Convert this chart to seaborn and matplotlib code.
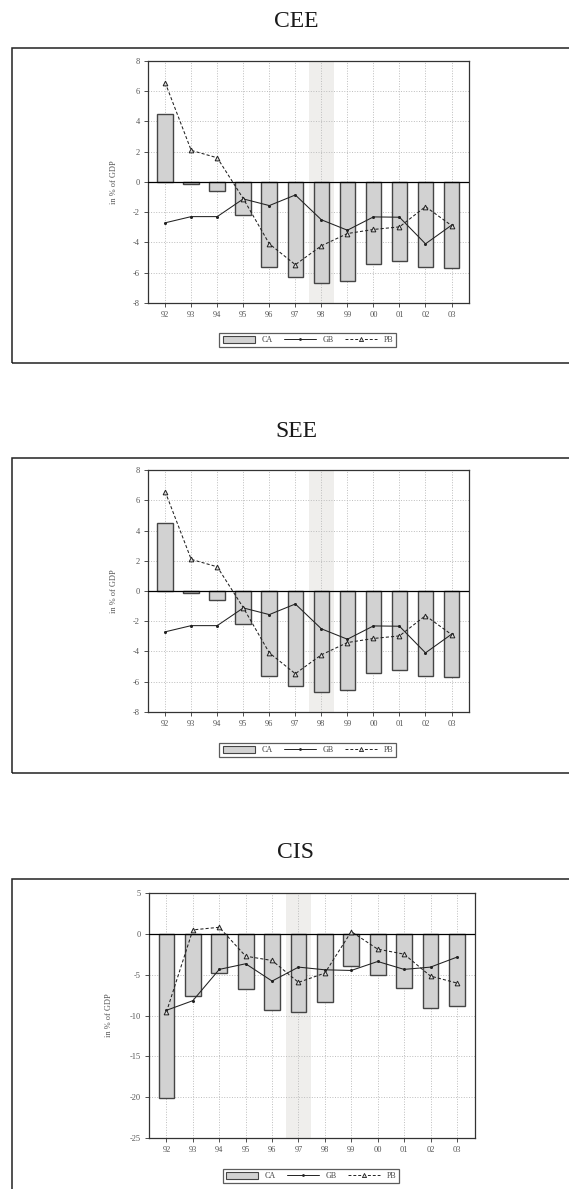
import numpy as np
import pandas as pd
import seaborn as sns
import matplotlib.pyplot as plt
from matplotlib.patches import Rectangle, Patch
from matplotlib.lines import Line2D

years = ["92", "93", "94", "95", "96", "97", "98", "99", "00", "01", "02", "03"]

# CEE
cee_ca = [4.48, -0.13, -0.62, -2.18, -5.6, -6.29, -6.7, -6.53, -5.4, -5.23, -5.65, -5.69]
cee_gb = [-2.7, -2.29, -2.29, -1.12, -1.56, -0.86, -2.5, -3.19, -2.31, -2.33, -4.09, -2.86]
cee_pb = [6.57, 2.09, 1.6, -1.1, -4.09, -5.47, -4.22, -3.41, -3.14, -2.97, -1.63, -2.88]

# SEE (same figures as printed)
see_ca = [4.48, -0.13, -0.62, -2.18, -5.6, -6.29, -6.7, -6.53, -5.4, -5.23, -5.65, -5.69]
see_gb = [-2.7, -2.29, -2.29, -1.12, -1.56, -0.86, -2.5, -3.19, -2.31, -2.33, -4.09, -2.86]
see_pb = [6.57, 2.09, 1.6, -1.1, -4.09, -5.47, -4.22, -3.41, -3.14, -2.97, -1.63, -2.88]

# CIS
cis_ca = [-20.15, -7.57, -4.76, -6.76, -9.28, -9.52, -8.34, -3.95, -5.05, -6.63, -9.04, -8.79]
cis_gb = [-9.36, -8.18, -4.35, -3.66, -5.78, -4.07, -4.4, -4.48, -3.38, -4.35, -4.07, -2.85]
cis_pb = [-9.56, 0.49, 0.81, -2.73, -3.26, -5.94, -4.8, 0.28, -1.87, -2.48, -5.17, -6.02]

sns.set_style("white")
plt.rcParams['font.family'] = ['Liberation Serif', 'DejaVu Serif']

fig = plt.figure(figsize=(5.69, 11.89), dpi=100)

BAR = '#d2d2d2'
EDGE = '#454545'
GREY = '#555555'


def panel(axpos, framepos, title, title_y, ca, gb, pb, ylim, yticks, shade_idx,
          ylab_x, leg_xy):
    # outer box
    fig.add_artist(Rectangle((framepos[0], framepos[1]), framepos[2], framepos[3],
                             transform=fig.transFigure, fill=False,
                             edgecolor='#222222', lw=1.1, clip_on=False))
    fig.text(0.52, title_y, title, ha='center', va='center', fontsize=17, color='#1a1a1a')

    ax = fig.add_axes(axpos)
    df = pd.DataFrame({'year': years, 'CA': ca})
    ax.axvspan(shade_idx - 0.47, shade_idx + 0.47, color='#efeeec', zorder=0, lw=0)
    sns.barplot(data=df, x='year', y='CA', color=BAR, saturation=1, width=0.6,
                edgecolor=EDGE, linewidth=1.0, ax=ax, zorder=2)
    ax.axhline(0, color='black', lw=0.9, zorder=3)
    xs = np.arange(len(years))
    sns.lineplot(x=xs, y=gb, color='#222222', lw=0.75, marker='o', markersize=2.2,
                 markeredgewidth=0, legend=False, ax=ax, zorder=4)
    sns.lineplot(x=xs, y=pb, color='#222222', lw=0.75, ls=(0, (3, 2)), marker='^',
                 markersize=3.4, markerfacecolor='#dddddd', markeredgecolor='#222222',
                 markeredgewidth=0.7, legend=False, ax=ax, zorder=5)

    ax.set_xlim(-0.66, len(years) - 1 + 0.67)
    ax.set_ylim(*ylim)
    ax.set_yticks(yticks)
    ax.set_yticklabels([str(t) for t in yticks])
    ax.set_xticks(xs)
    ax.set_xticklabels(years)
    ax.grid(True, ls=':', color='#bdbdbd', lw=0.7, zorder=1)
    ax.set_axisbelow(True)
    ax.set_xlabel('')
    ax.set_ylabel('in % of GDP', fontsize=6, color=GREY)
    ax.yaxis.set_label_coords(ylab_x, 0.5)
    ax.tick_params(axis='both', direction='out', length=3, width=0.6, color='#333333',
                   labelsize=6, labelcolor=GREY, pad=3, left=True, bottom=True)
    for s in ax.spines.values():
        s.set_color('#333333')
        s.set_linewidth(0.9)

    handles = [
        Patch(facecolor=BAR, edgecolor=EDGE, lw=0.8),
        Line2D([], [], color='#222222', lw=0.7, marker='o', markersize=2, markeredgewidth=0),
        Line2D([], [], color='#222222', lw=0.7, ls=(0, (3, 2)), marker='^', markersize=3,
               markerfacecolor='#dddddd', markeredgecolor='#222222', markeredgewidth=0.6),
    ]
    fig.legend(handles, ['CA', 'GB', 'PB'], loc='center', bbox_to_anchor=leg_xy,
               ncol=3, fontsize=5.8, frameon=True, fancybox=False, edgecolor='#333333',
               handlelength=4, handleheight=1.0, handletextpad=0.8, columnspacing=1.4,
               borderpad=0.4, labelcolor='#444444').get_frame().set_linewidth(0.9)
    return ax


panel([0.2601, 0.7452, 0.5641, 0.2035], [0.021, 0.6947, 1.05, 0.2649], 'CEE', 0.9815,
      cee_ca, cee_gb, cee_pb, (-8, 8), list(range(-8, 9, 2)), 6, -0.093, (0.541, 0.714))
panel([0.2601, 0.4012, 0.5641, 0.2035], [0.021, 0.3499, 1.05, 0.2649], 'SEE', 0.6367,
      see_ca, see_gb, see_pb, (-8, 8), list(range(-8, 9, 2)), 6, -0.093, (0.541, 0.3692))
panel([0.2619, 0.0429, 0.5722, 0.2060], [0.021, -0.02, 1.05, 0.2807], 'CIS', 0.2826,
      cis_ca, cis_gb, cis_pb, (-25, 5), list(range(-25, 6, 5)), 5, -0.112, (0.5466, 0.0109))

fig.savefig('out.png', dpi=100)
